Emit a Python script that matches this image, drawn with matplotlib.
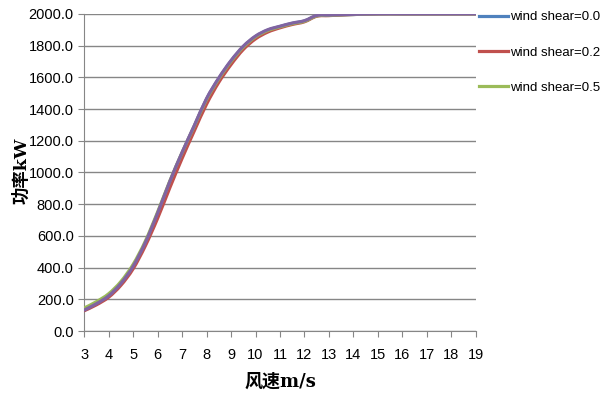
import numpy as np
import matplotlib.pyplot as plt
from matplotlib.path import Path
from matplotlib.patches import PathPatch

plt.rcParams['font.family'] = ['Liberation Sans', 'DejaVu Sans']

# wind speed m/s
speed = [3, 3.5, 4, 4.5, 5, 5.5, 6, 6.5, 7, 7.5, 8, 8.5, 9, 9.5, 10, 10.5,
         11, 11.5, 12, 12.5, 13, 13.5, 14, 15, 16, 17, 18, 19]

# power kW for each wind shear
p_00 = [130, 170, 220, 298, 405, 555, 740, 940, 1122, 1292, 1462, 1592, 1702, 1792, 1857, 1897,
        1920, 1940, 1955, 1988, 1991, 1994, 1996, 2000, 2000, 2000, 2000, 2000]
p_02 = [128, 165, 213, 288, 392, 537, 710, 903, 1088, 1262, 1430, 1568, 1680, 1775, 1842, 1885,
        1912, 1933, 1950, 1985, 1989, 1993, 1996, 2000, 2000, 2000, 2000, 2000]
p_05 = [145, 185, 235, 312, 420, 567, 750, 946, 1125, 1292, 1460, 1590, 1700, 1790, 1855, 1895,
        1918, 1938, 1953, 1987, 1990, 1994, 1996, 2000, 2000, 2000, 2000, 2000]
p_ref = [132, 172, 222, 300, 408, 558, 743, 943, 1126, 1296, 1466, 1596, 1706, 1796, 1860, 1900,
         1922, 1942, 1957, 1990, 1992, 1995, 1997, 2000, 2000, 2000, 2000, 2000]

labels = ['wind shear=0.0', 'wind shear=0.2', 'wind shear=0.5', None]
colors = ['#4F81BD', '#C0504D', '#9BBB59', '#8064A2']


def smooth_path(x, y):
    # excel style smoothed line: catmull-rom segments as cubic beziers
    x = np.asarray(x, float)
    y = np.asarray(y, float)
    verts = [(x[0], y[0])]
    codes = [Path.MOVETO]
    n = len(x)
    for i in range(n - 1):
        i0 = max(i - 1, 0)
        i3 = min(i + 2, n - 1)
        c1 = (x[i] + (x[i + 1] - x[i0]) / 6, y[i] + (y[i + 1] - y[i0]) / 6)
        c2 = (x[i + 1] - (x[i3] - x[i]) / 6, y[i + 1] - (y[i3] - y[i]) / 6)
        verts += [c1, c2, (x[i + 1], y[i + 1])]
        codes += [Path.CURVE4] * 3
    return Path(verts, codes)


fig = plt.figure(figsize=(6.14, 3.96), dpi=100)
ax = fig.add_axes([0.137, 0.164, 0.638, 0.801])

for ys, c, lab in zip([p_00, p_02, p_05, p_ref], colors, labels):
    ax.add_patch(PathPatch(smooth_path(speed, ys), fill=False, edgecolor=c, lw=2.3,
                           capstyle='round', zorder=3))
    if lab:
        ax.plot([], [], color=c, lw=2.3, label=lab)

ax.set_xlim(3, 19)
ax.set_ylim(0, 2000)
ax.set_xticks(range(3, 20))
ax.set_yticks(np.arange(0, 2001, 200))
ax.set_yticklabels(['%.1f' % v for v in np.arange(0, 2001, 200)])
ax.grid(axis='y', color='#868686', lw=1)
ax.set_axisbelow(True)
for s in ['top', 'right']:
    ax.spines[s].set_visible(False)
for s in ['left', 'bottom']:
    ax.spines[s].set_color('#868686')
ax.tick_params(colors='#868686', labelcolor='black', labelsize=10.5, length=4, direction='out')
ax.tick_params(axis='x', pad=8)

ax.set_xlabel('风速m/s', family=['DejaVu Serif', 'Noto Sans CJK SC'], fontweight='bold',
              fontsize=13, labelpad=8)
fig.text(0.036, 0.57, '功率kW', family=['DejaVu Serif', 'Noto Sans CJK SC'], fontweight='bold',
         fontsize=12.5, rotation=90, ha='center', va='center')

ax.legend(loc='upper left', bbox_to_anchor=(0.995, 1.025), frameon=False, fontsize=9.5,
          handlelength=2.2, handletextpad=0.1, labelspacing=1.75, borderaxespad=0)

fig.savefig('out.png', dpi=100)
